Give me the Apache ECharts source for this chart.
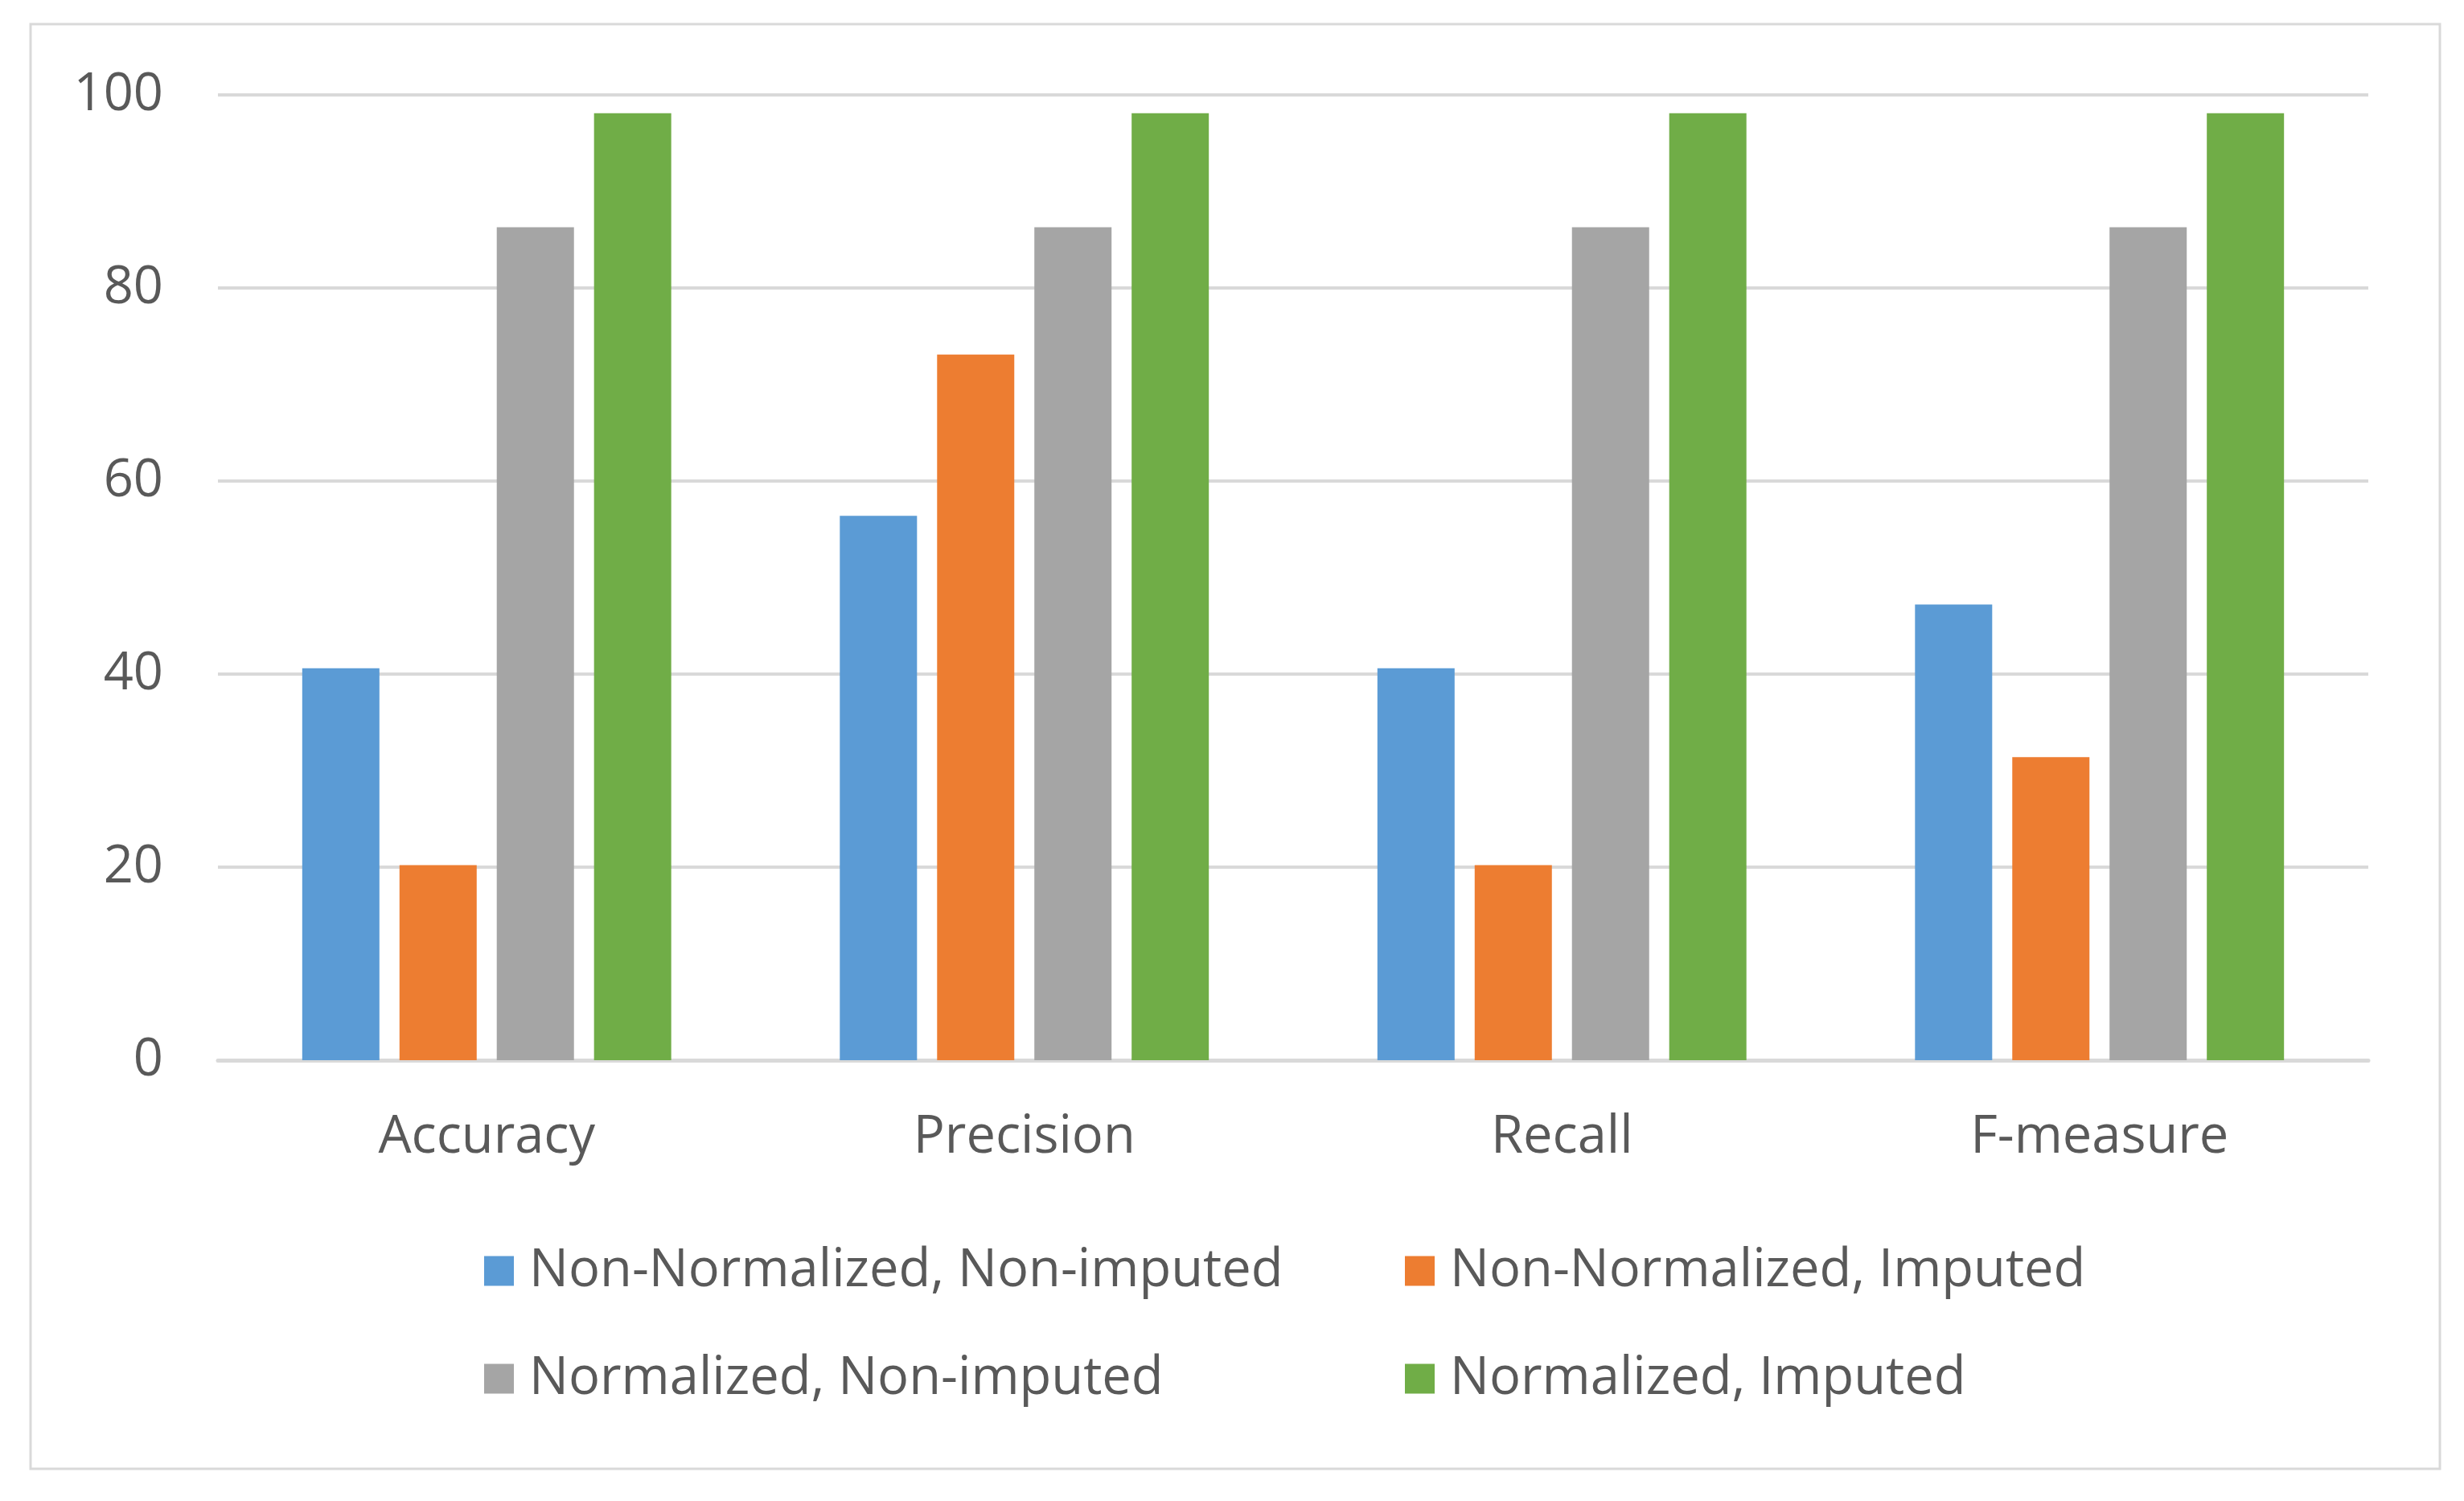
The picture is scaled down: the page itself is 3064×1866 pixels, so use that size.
<!DOCTYPE html>
<html>
<head>
<meta charset="utf-8">
<style>html,body{margin:0;padding:0;background:#fff;}#c{width:3064px;height:1866px;}</style>
<script src="https://cdn.jsdelivr.net/npm/echarts@6/dist/echarts.min.js"></script>
</head>
<body>
<div id="c"></div>
<script>
const categories = ['Accuracy', 'Precision', 'Recall', 'F-measure'];
const seriesNames = ['Non-Normalized, Non-imputed', 'Non-Normalized, Imputed', 'Normalized, Non-imputed', 'Normalized, Imputed'];
const nonNormNonImp = [40.6, 56.4, 40.6, 47.2];
const nonNormImp = [20.2, 73.1, 20.2, 31.4];
const normNonImp = [86.3, 86.3, 86.3, 86.3];
const normImp = [98.1, 98.1, 98.1, 98.1];
const yTicks = [0, 20, 40, 60, 80, 100];
const colors = ['#5B9BD5', '#ED7D31', '#A5A5A5', '#70AD47'];
const values = [nonNormNonImp, nonNormImp, normNonImp, normImp];

const FONT = 'Open Sans';
const FS = 65;
const TXT = '#595959';

const legendPos = [
  {left: 602, top: 1547},
  {left: 1747, top: 1547},
  {left: 602, top: 1681},
  {left: 1747, top: 1681}
];

const chart = echarts.init(document.getElementById('c'), null, {renderer: 'canvas'});
chart.setOption({
  backgroundColor: '#fff',
  animation: false,
  graphic: [{
    type: 'rect',
    shape: {x: 38, y: 30, width: 2996, height: 1796},
    style: {fill: 'none', stroke: '#D9D9D9', lineWidth: 3},
    silent: true
  }],
  legend: seriesNames.map((n, i) => ({
    data: [n],
    left: legendPos[i].left,
    top: legendPos[i].top,
    padding: 0,
    itemWidth: 37,
    itemHeight: 37,
    itemGap: 0,
    icon: 'rect',
    textStyle: {fontFamily: FONT, fontSize: FS, color: TXT, lineHeight: 66, padding: [0, 0, 0, 14]},
    selectedMode: false
  })),
  grid: {left: 271, right: 119, top: 118, bottom: 548, containLabel: false},
  xAxis: {
    type: 'category',
    data: categories,
    axisTick: {show: false},
    axisLine: {lineStyle: {color: '#D9D9D9', width: 5}},
    axisLabel: {fontFamily: FONT, fontSize: FS, color: TXT, margin: 64}
  },
  yAxis: {
    type: 'value',
    min: yTicks[0],
    max: yTicks[yTicks.length - 1],
    interval: yTicks[1] - yTicks[0],
    axisLine: {show: false},
    axisTick: {show: false},
    splitLine: {lineStyle: {color: '#D9D9D9', width: 4}},
    axisLabel: {fontFamily: FONT, fontSize: FS, color: TXT, margin: 68}
  },
  series: seriesNames.map((n, i) => ({
    name: n,
    type: 'bar',
    data: values[i],
    barWidth: 96,
    barGap: '26%',
    itemStyle: {color: colors[i]}
  }))
});
</script>
</body>
</html>
